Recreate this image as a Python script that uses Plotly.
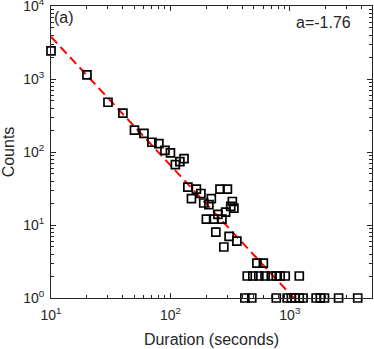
import plotly.graph_objects as go

# Data (duration in seconds, counts)
duration = [10, 20, 30, 40, 50, 60, 70, 80, 90, 100, 110, 120, 130,
            140, 165, 180, 150, 190, 220, 210, 260, 300, 330, 320, 340,
            290, 250, 200, 230, 270, 240, 310, 360, 280,
            530, 600,
            440, 490, 550, 620, 700, 770, 830, 915, 1200,
            420, 480, 770, 950, 1030, 1110, 1200, 1290, 1660, 1800, 1950, 2560, 3700]
counts = [2430, 1140, 480, 340, 199, 180, 136, 130, 105, 97, 67, 74, 81,
          33, 31, 27, 23, 20, 23, 19, 31, 31, 21, 18, 17,
          15, 14, 12, 12, 12, 8, 7, 6, 5,
          3, 3,
          2, 2, 2, 2, 2, 2, 2, 2, 2,
          1, 1, 1, 1, 1, 1, 1, 1, 1, 1, 1, 1, 1]

# Power-law fit: counts = fit_c10 * (duration/10)^fit_slope
fit_slope = -1.76
fit_c10 = 3790
fit_x = [10, 1080]
fit_y = [fit_c10 * (x / 10) ** fit_slope for x in fit_x]

# Tick labels
x_tickvals = [10, 100, 1000]
x_ticktext = ["10<sup>1</sup>", "10<sup>2</sup>", "10<sup>3</sup>"]
y_tickvals = [1, 10, 100, 1000, 10000]
y_ticktext = ["10<sup>0</sup>", "10<sup>1</sup>", "10<sup>2</sup>",
              "10<sup>3</sup>", "10<sup>4</sup>"]
x_minor = [m * 10 ** e for e in (1, 2, 3) for m in range(2, 10)]
y_minor = [m * 10 ** e for e in (0, 1, 2, 3) for m in range(2, 10)]

panel_label = "(a)"
slope_label = "a=-1.76"

axis_color = "#262626"
font_family = "Liberation Sans, Arial, sans-serif"

fig = go.Figure()
fig.add_trace(go.Scatter(
    x=fit_x, y=fit_y, mode="lines",
    line=dict(color="#ff0000", width=2, dash="9px,5px"),
    showlegend=False, hoverinfo="skip"))
fig.add_trace(go.Scatter(
    x=duration, y=counts, mode="markers",
    marker=dict(symbol="square-open", size=8, color="black",
                line=dict(color="black", width=1.7)),
    cliponaxis=False, showlegend=False))

common = dict(
    type="log", showline=True, linecolor=axis_color, linewidth=1,
    mirror="allticks", ticks="inside", ticklen=5, tickcolor=axis_color,
    tickmode="array", showgrid=False, zeroline=False, automargin=False,
    ticklabeloverflow="allow",
    tickfont=dict(family=font_family, size=14, color=axis_color),
)

fig.update_xaxes(range=[1, 3.688], tickvals=x_tickvals, ticktext=x_ticktext,
                 minor=dict(tickmode="array", tickvals=x_minor, ticks="inside",
                            ticklen=3, tickcolor=axis_color, showgrid=False),
                 title=dict(text="Duration (seconds)",
                            font=dict(family=font_family, size=16, color=axis_color),
                            standoff=12),
                 ticklabelstandoff=4,
                 **common)
fig.update_yaxes(range=[0, 4], tickvals=y_tickvals, ticktext=y_ticktext,
                 minor=dict(tickmode="array", tickvals=y_minor, ticks="inside",
                            ticklen=3, tickcolor=axis_color, showgrid=False),
                 title=dict(text="Counts",
                            font=dict(family=font_family, size=16, color=axis_color),
                            standoff=4),
                 ticklabelstandoff=3,
                 **common)

fig.add_annotation(x=0.003, y=0.962, xref="paper", yref="paper",
                   text=panel_label, showarrow=False, xanchor="left", yanchor="middle",
                   font=dict(family=font_family, size=16, color=axis_color))
fig.add_annotation(x=0.941, y=0.945, xref="paper", yref="paper",
                   text=slope_label, showarrow=False, xanchor="right", yanchor="middle",
                   font=dict(family=font_family, size=16, color=axis_color))

fig.update_layout(
    width=374, height=349,
    margin=dict(l=51, r=2, t=6, b=51),
    plot_bgcolor="white", paper_bgcolor="white",
    font=dict(family=font_family, color=axis_color),
)

fig.write_html("out.html",
               config={"displayModeBar": False},
               post_script="document.body.style.margin='0';")
